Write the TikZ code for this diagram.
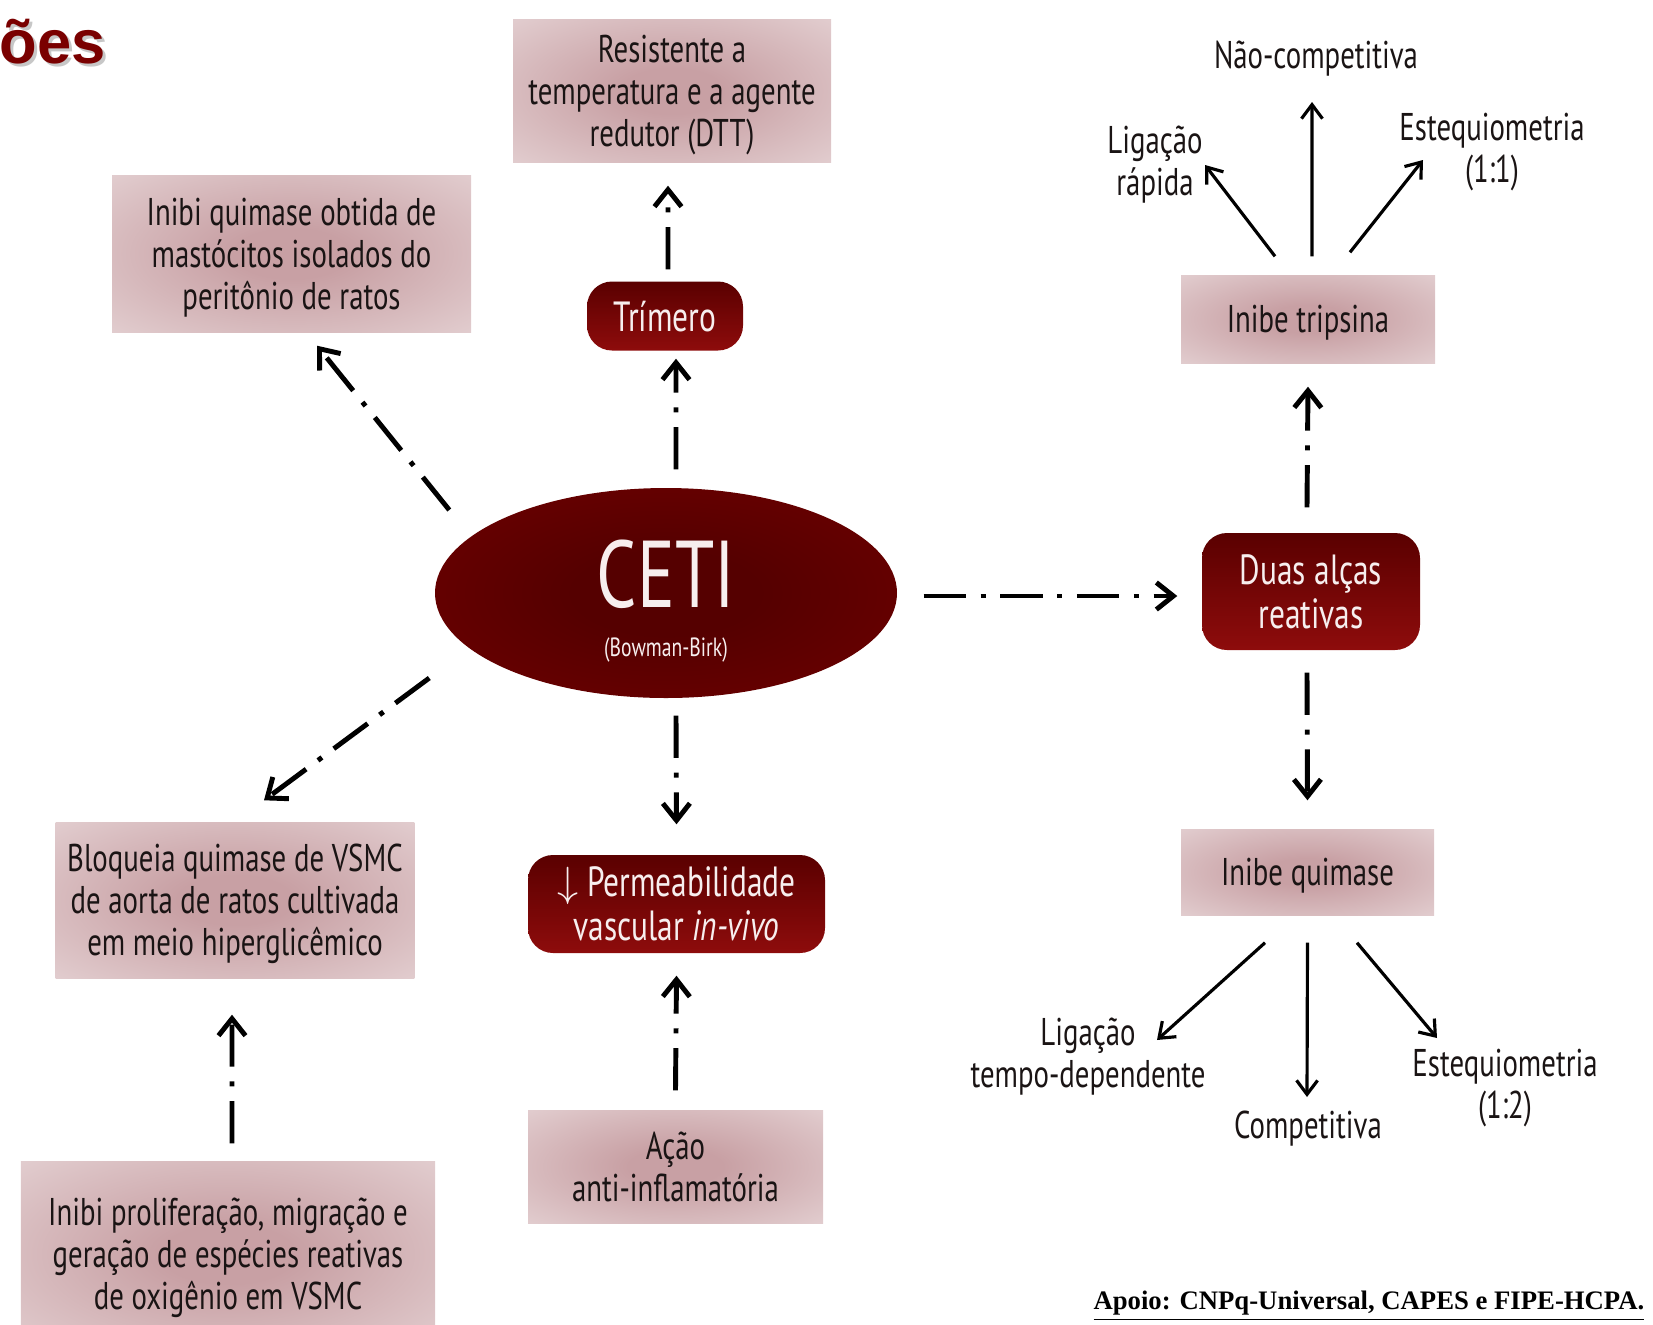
\documentclass[tikz,border=0pt]{standalone}
\usepackage{fontspec}
\setmainfont{PT Sans}[FakeStretch=0.745]
\newfontfamily\titlefont{Liberation Sans}
\newfontfamily\apoiofont{Liberation Serif}
\usetikzlibrary{arrows.meta, positioning, calc, shapes.geometric}

\definecolor{ink}{HTML}{1A1414}
\definecolor{petal}{HTML}{F7EEEE}
\definecolor{rose}{HTML}{C8A0A4}
\definecolor{blush}{HTML}{EFE4E5}
\definecolor{wineTop}{HTML}{5A0000}
\definecolor{wineBottom}{HTML}{8E0C0C}
\definecolor{wineCore}{HTML}{550000}
\definecolor{wineRim}{HTML}{7C0000}
\definecolor{titlered}{HTML}{7A0000}

\pgfdeclareradialshading{roseglow}{\pgfpoint{0bp}{0bp}}{color(0bp)=(rose); color(8bp)=(rose); color(50bp)=(blush); color(100bp)=(blush)}
\pgfdeclareradialshading{wineglow}{\pgfpoint{0bp}{0bp}}{color(0bp)=(wineCore); color(10bp)=(wineCore); color(50bp)=(wineRim); color(100bp)=(wineRim)}

\begin{document}
\begin{tikzpicture}[
    every node/.style={font=\fontsize{11}{12}\selectfont},
    % Pale boxes with a rose glow
    soft/.style 2 args={rectangle, shade, shading=roseglow, text=ink, align=center,
                        minimum width=#1, minimum height=#2, text depth=0pt},
    % Wine-red rounded boxes
    dark/.style 2 args={rectangle, rounded corners=2.5mm, top color=wineTop,
                        bottom color=wineBottom, text=petal, align=center,
                        minimum width=#1, minimum height=#2, text depth=0pt,
                        font=\fontsize{12}{12.5}\selectfont},
    % Free text round the enzyme boxes
    note/.style={text=ink, align=center, text depth=0pt},
    % Dash-dot arrow
    flow/.style={-{Straight Barb[length=1.7mm, width=2.7mm]}, line width=1.4pt,
                 dash pattern=on 12pt off 4.2pt on 1.4pt off 4.2pt},
    % Thin solid arrow
    link/.style={-{Straight Barb[length=1.4mm, width=2.1mm]}, line width=0.9pt}
]
\useasboundingbox (0,0) rectangle (16.53,-13.24);

% === TITLE AND FOOTER ===

% Cut-off slide title, upper left
\node[anchor=base west, inner sep=0pt, font=\titlefont\bfseries\fontsize{17.5}{17.5}\selectfont,
      text=black!40, opacity=0.55] (titleshadow) at (0.02,-0.66) {ões};
\node[anchor=base west, inner sep=0pt, font=\titlefont\bfseries\fontsize{17.5}{17.5}\selectfont,
      text=titlered] (title) at (-0.01,-0.63) {ões};

% Funding line, lower right
\node[anchor=base east, inner sep=0pt, font=\apoiofont\bfseries\fontsize{7.6}{9}\selectfont]
    (apoio) at (16.45,-13.09) {\underline{Apoio: CNPq-Universal, CAPES e FIPE-HCPA.}};

% === CENTRAL NODE ===

\node[ellipse, shade, shading=wineglow, minimum width=4.62cm, minimum height=2.10cm,
      inner sep=0pt, text=petal, align=center] (ceti) at (6.66,-5.93)
    {\\[3.5pt]{\fontsize{27}{27}\selectfont CETI}\\[2pt]{\fontsize{7.5}{9}\selectfont (Bowman-Birk)}};

% === LEFT AND MIDDLE BRANCHES ===

% Above the centre
\node[dark={1.56cm}{0.69cm}] (trimero) at (6.65,-3.16) {Trímero};
\node[soft={3.18cm}{1.43cm}] (resist) at (6.72,-0.91)
    {Resistente a\\temperatura e a agente\\redutor (DTT)};

% Upper left
\node[soft={3.59cm}{1.57cm}] (mastocito) at (2.915,-2.535)
    {Inibi quimase obtida de\\mastócitos isolados do\\peritônio de ratos};

% Lower left
\node[soft={3.58cm}{1.56cm}] (vsmc) at (2.35,-9.00)
    {Bloqueia quimase de VSMC\\de aorta de ratos cultivada\\em meio hiperglicêmico};
\node[soft={4.14cm}{1.86cm}] (prolif) at (2.28,-12.54)
    {Inibi proliferação, migração e\\geração de espécies reativas\\de oxigênio em VSMC};

% Below the centre
\node[dark={2.97cm}{0.98cm}] (perm) at (6.765,-9.04)
    {$\downarrow$ Permeabilidade\\vascular \textit{in-vivo}};
\node[soft={2.95cm}{1.13cm}] (acao) at (6.755,-11.665)
    {Ação\\anti-inflamatória};

% === RIGHT BRANCH ===

\node[dark={2.18cm}{1.17cm}] (alcas) at (13.11,-5.915) {Duas alças\\reativas};
\node[soft={2.54cm}{0.88cm}] (tripsina) at (13.08,-3.19) {Inibe tripsina};
\node[soft={2.53cm}{0.86cm}] (quimase) at (13.075,-8.72) {Inibe quimase};

% Kinetics of trypsin inhibition
\node[note] (naocomp) at (13.16,-0.55) {Não-competitiva};
\node[note] (ligrapida) at (11.55,-1.61) {Ligação\\rápida};
\node[note] (esteq11) at (14.92,-1.48) {Estequiometria\\(1:1)};

% Kinetics of chymase inhibition
\node[note] (ligtempo) at (10.88,-10.53) {Ligação\\tempo-dependente};
\node[note] (compet) at (13.08,-11.25) {Competitiva};
\node[note] (esteq12) at (15.05,-10.84) {Estequiometria\\(1:2)};

% === DASH-DOT ARROWS ===

% CETI -> Trímero -> Resistente
\draw[flow] ($(ceti.north)+(0.10,0.18)$) -- ($(trimero.south)+(0.11,-0.075)$);
\draw[flow] ($(trimero.north)+(0.03,0.115)$) -- ($(resist.south)+(-0.04,-0.225)$);

% CETI -> mastócitos (upper left)
\draw[flow] ($(ceti.west)+(0.15,0.83)$) -- ($(mastocito.south)+(0.255,-0.13)$);

% CETI -> VSMC (lower left)
\draw[flow] ($(ceti.west)+(-0.05,-0.85)$) -- ($(vsmc.north)+(0.29,0.21)$);

% Proliferação -> VSMC
\draw[flow] ($(prolif.north)+(0.04,0.17)$) -- ($(vsmc.south)+(-0.03,-0.36)$);

% CETI -> Permeabilidade <- Ação
\draw[flow] ($(ceti.south)+(0.10,-0.17)$) -- ($(perm.north)+(0,0.30)$);
\draw[flow] ($(acao.north)+(0,0.19)$) -- ($(perm.south)+(0,-0.22)$);

% CETI -> Duas alças -> tripsina / quimase
\draw[flow] ($(ceti.east)+(0.26,-0.03)$) -- ($(alcas.west)+(-0.24,-0.045)$);
\draw[flow] ($(alcas.north)+(-0.04,0.25)$) -- ($(tripsina.south)+(0,-0.23)$);
\draw[flow] ($(alcas.south)+(-0.04,-0.22)$) -- ($(quimase.north)+(0,0.28)$);

% === SOLID ARROWS ===

% Inibe tripsina
\draw[link] ($(tripsina.north)+(-0.33,0.18)$) -- ($(ligrapida)+(0.50,-0.04)$);
\draw[link] ($(tripsina.north)+(0.04,0.18)$) -- ($(naocomp)+(-0.04,-0.47)$);
\draw[link] ($(tripsina.north)+(0.42,0.22)$) -- ($(esteq11)+(-0.69,-0.12)$);

% Inibe quimase
\draw[link] ($(quimase.south)+(-0.425,-0.27)$) -- ($(ligtempo)+(0.69,0.13)$);
\draw[link] ($(quimase.south)+(0,-0.27)$) -- ($(compet)+(-0.01,0.28)$);
\draw[link] ($(quimase.south)+(0.495,-0.27)$) -- ($(esteq12)+(-0.68,0.46)$);

\end{tikzpicture}
\end{document}
